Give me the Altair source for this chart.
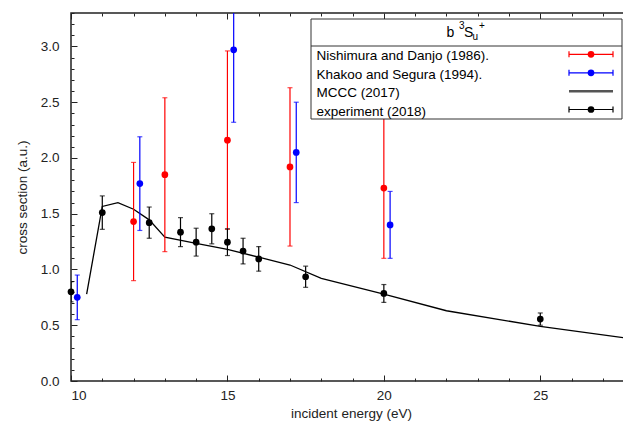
import altair as alt
import pandas as pd

# ---------------- data ----------------
mccc_x = [10.5, 11.0, 11.5, 12.0, 12.5, 13.0, 14.0, 15.0, 16.0, 17.0, 18.0, 20.0, 22.0, 25.0, 27.9]
mccc_y = [0.78, 1.565, 1.60, 1.54, 1.445, 1.29, 1.235, 1.18, 1.11, 1.04, 0.92, 0.78, 0.63, 0.49, 0.38]

nish_x = [12.0, 13.0, 15.0, 17.0, 20.0]
nish_y = [1.43, 1.85, 2.16, 1.92, 1.73]
nish_err = [0.53, 0.69, 0.80, 0.71, 0.63]

khak_x = [10.2, 12.2, 15.2, 17.2, 20.2]
khak_y = [0.75, 1.77, 2.97, 2.05, 1.40]
khak_err = [0.20, 0.42, 0.65, 0.45, 0.30]

exp_x = [10.0, 11.0, 12.5, 13.5, 14.0, 14.5, 15.0, 15.5, 16.0, 17.5, 20.0, 25.0]
exp_y = [0.80, 1.51, 1.42, 1.335, 1.245, 1.365, 1.245, 1.165, 1.095, 0.935, 0.785, 0.555]
exp_err = [0.09, 0.15, 0.14, 0.13, 0.125, 0.135, 0.12, 0.115, 0.11, 0.095, 0.08, 0.055]

series_names = ["Nishimura and Danjo (1986).", "Khakoo and Segura (1994).",
                "MCCC (2017)", "experiment (2018)"]
series_colors = ["#ff0000", "#0000ff", "#555555", "#000000"]

x_major = [10, 15, 20, 25]
x_all = list(range(10, 28))
y_major = [0.0, 0.5, 1.0, 1.5, 2.0, 2.5, 3.0]
y_all = [round(i * 0.1, 1) for i in range(0, 34)]

# ---------------- layout ----------------
W, H = 560, 368
FONT = "Liberation Sans"
INK = "#222222"

xs = alt.Scale(domain=[10, 27.9], nice=False, zero=False)
ys = alt.Scale(domain=[0, 3.3], nice=False, zero=False)

x_tick_cond = {"condition": {"test": "datum.value % 5 === 0", "value": 6}, "value": 3}
y_tick_cond = {"condition": {"test": "abs(datum.value*2 - round(datum.value*2)) < 0.000001", "value": 6}, "value": 3}

x_main = alt.Axis(orient="bottom", values=x_major, format="d", tickSize=0,
                  labelFont=FONT, labelFontSize=13.5, labelColor=INK, labelPadding=7,
                  title="incident energy (eV)", titleFont=FONT, titleFontSize=13.5,
                  titleFontWeight="normal", titleColor=INK, titlePadding=5,
                  domain=False, grid=False)
y_main = alt.Axis(orient="left", values=y_major, format=".1f", tickSize=0,
                  labelFont=FONT, labelFontSize=13.5, labelColor=INK, labelPadding=12,
                  title="cross section (a.u.)", titleFont=FONT, titleFontSize=13.5,
                  titleFontWeight="normal", titleColor=INK, titlePadding=11,
                  domain=False, grid=False)
x_in_bottom = alt.Axis(orient="top", offset=-H, values=x_all, tickSize=x_tick_cond,
                       tickColor=INK, labels=False, domain=False, grid=False, title=None)
x_in_top = alt.Axis(orient="bottom", offset=-H, values=x_all, tickSize=x_tick_cond,
                    tickColor=INK, labels=False, domain=False, grid=False, title=None)
y_in_left = alt.Axis(orient="right", offset=-W, values=y_all, tickSize=y_tick_cond,
                     tickColor=INK, labels=False, domain=False, grid=False, title=None)
y_in_right = alt.Axis(orient="left", offset=-W, values=y_all, tickSize=y_tick_cond,
                      tickColor=INK, labels=False, domain=False, grid=False, title=None)


def err_df(xv, yv, ev):
    return pd.DataFrame({"x": xv, "y": yv,
                         "lo": [a - b for a, b in zip(yv, ev)],
                         "hi": [a + b for a, b in zip(yv, ev)]})


mccc = pd.DataFrame({"x": mccc_x, "y": mccc_y})
nish = err_df(nish_x, nish_y, nish_err)
khak = err_df(khak_x, khak_y, khak_err)
expd = err_df(exp_x, exp_y, exp_err)

layers = []

# MCCC line (main axes)
layers.append(alt.Chart(mccc).mark_line(color="black", strokeWidth=1.3, clip=True).encode(
    x=alt.X("x:Q", scale=xs, axis=x_main),
    y=alt.Y("y:Q", scale=ys, axis=y_main)))


def errbars(df, color, ax_x=None, ax_y=None, ax_x2=None, ax_y2=None):
    out = []
    out.append(alt.Chart(df).mark_rule(color=color, strokeWidth=1.2, clip=True).encode(
        x=alt.X("x:Q", scale=xs, axis=ax_x),
        y=alt.Y("lo:Q", scale=ys, axis=ax_y),
        y2="hi:Q"))
    for col in ["lo", "hi"]:
        ax1 = ax_x2 if col == "lo" else None
        ax2 = ax_y2 if col == "lo" else None
        out.append(alt.Chart(df).mark_tick(color=color, orient="horizontal", size=5,
                                           thickness=1.2, clip=True).encode(
            x=alt.X("x:Q", scale=xs, axis=ax1),
            y=alt.Y(f"{col}:Q", scale=ys, axis=ax2)))
    out.append(alt.Chart(df).mark_circle(color=color, size=45, opacity=1).encode(
        x=alt.X("x:Q", scale=xs, axis=None),
        y=alt.Y("y:Q", scale=ys, axis=None)))
    return out


layers += errbars(nish, "#ff0000")
layers += errbars(khak, "#0000ff")
layers += errbars(expd, "#000000", x_in_bottom, y_in_left, x_in_top, y_in_right)

# ---------------- legend (drawn in pixel space) ----------------
dummy = pd.DataFrame({"a": [0]})
LX0, LX1, LY0, LY1, LSEP = 240, 551, 6, 106, 33
layers.append(alt.Chart(dummy).mark_rect(fill="white", stroke="#333333", strokeWidth=1).encode(
    x=alt.value(LX0), x2=alt.value(LX1), y=alt.value(LY0), y2=alt.value(LY1)))
layers.append(alt.Chart(dummy).mark_rule(color="#333333", strokeWidth=1).encode(
    x=alt.value(LX0), x2=alt.value(LX1), y=alt.value(LSEP)))

title_parts = [("b", 375.5, 23.7, 14), ("3", 388, 15.5, 10), ("S", 393, 23.7, 14),
               ("u", 401.5, 26.5, 10), ("+", 408, 15.5, 10)]
for t, px, py, fs in title_parts:
    layers.append(alt.Chart(dummy).mark_text(text=t, font=FONT, fontSize=fs, color="black",
                                             align="left", baseline="alphabetic").encode(
        x=alt.value(px), y=alt.value(py)))

row_base = [47, 65.5, 84, 102.5]
row_mid = [41.3, 59.8, 78.3, 96.5]
SX0, SX1, SXD = 498, 542, 520
for i, (name, col) in enumerate(zip(series_names, series_colors)):
    layers.append(alt.Chart(dummy).mark_text(text=name, font=FONT, fontSize=13.5, color="black",
                                             align="left", baseline="alphabetic").encode(
        x=alt.value(245.5), y=alt.value(row_base[i])))
    sw = 2.5 if i == 2 else 1.2
    layers.append(alt.Chart(dummy).mark_rule(color=col, strokeWidth=sw).encode(
        x=alt.value(SX0), x2=alt.value(SX1), y=alt.value(row_mid[i])))
    if i != 2:
        for cx in (SX0, SX1):
            layers.append(alt.Chart(dummy).mark_rule(color=col, strokeWidth=1.2).encode(
                x=alt.value(cx), y=alt.value(row_mid[i] - 3), y2=alt.value(row_mid[i] + 3)))
        layers.append(alt.Chart(dummy).mark_circle(color=col, size=45, opacity=1).encode(
            x=alt.value(SXD), y=alt.value(row_mid[i])))

chart = alt.layer(*layers).resolve_axis(x="independent", y="independent").properties(
    width=W, height=H,
    autosize=alt.AutoSizeParams(type="none"),
    padding={"left": 63, "top": 5, "right": -8, "bottom": 40},
    background="white",
).configure_view(stroke=INK, strokeWidth=1.5)

chart.save("out.html", embed_options={"renderer": "svg", "actions": False})
